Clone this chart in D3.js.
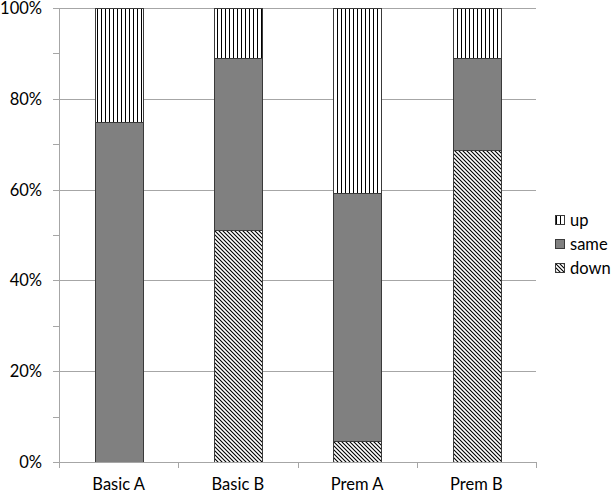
<!DOCTYPE html>
<html><head><meta charset="utf-8">
<script src="https://cdn.jsdelivr.net/npm/d3@7"></script>
<style>body{margin:0;background:#fff}svg{display:block}text{font-family:Lato,"Open Sans",sans-serif}</style>
</head><body><svg id="c" width="613" height="493"></svg>
<script>
const categories = ["Basic A","Basic B","Prem A","Prem B"];
const seriesNames = ["down","same","up"];
const down = [0, 51.1, 4.6, 68.7];
const same = [75.0, 37.9, 54.6, 20.2];
const up   = [25.0, 11.0, 40.8, 11.1];
const yTicks = [0,20,40,60,80,100];
const legendOrder = ["up","same","down"];

const svg = d3.select("#c");
const W=613,H=493;
const m={l:59,r:77,t:8,b:31};
const x=d3.scaleBand().domain(categories).range([m.l,W-m.r]).paddingInner(0.6).paddingOuter(0.3);
const xb=d3.scaleBand().domain(categories).range([m.l,W-m.r]);
const y=d3.scaleLinear().domain([0,100]).range([H-m.b,m.t]);

const defs=svg.append("defs");
const pu=defs.append("pattern").attr("id","p-up").attr("patternUnits","userSpaceOnUse").attr("width",4).attr("height",4);
pu.append("rect").attr("width",4).attr("height",4).attr("fill","#fff");
pu.append("line").attr("x1",1.5).attr("x2",1.5).attr("y1",0).attr("y2",4).attr("stroke","#000").attr("stroke-width",1);
const pd=defs.append("pattern").attr("id","p-down").attr("patternUnits","userSpaceOnUse").attr("width",4).attr("height",4);
pd.append("rect").attr("width",4).attr("height",4).attr("fill","#fff");
pd.append("path").attr("d","M-1,-1L5,5M-1,3L1,5M3,-1L5,1").attr("stroke","#000").attr("stroke-width",1.1);
const fills={up:"url(#p-up)",same:"#808080",down:"url(#p-down)"};

const gc="#a6a6a6";
svg.append("g").selectAll("line").data(yTicks).join("line")
 .attr("x1",m.l-6).attr("x2",W-m.r).attr("y1",d=>Math.round(y(d))+0.5).attr("y2",d=>Math.round(y(d))+0.5)
 .attr("stroke",gc).attr("stroke-width",1);
svg.append("g").selectAll("line").data(d3.range(10,100,20)).join("line")
 .attr("x1",m.l-6).attr("x2",m.l).attr("y1",d=>Math.round(y(d))+0.5).attr("y2",d=>Math.round(y(d))+0.5)
 .attr("stroke",gc);
svg.append("line").attr("x1",m.l+0.5).attr("x2",m.l+0.5).attr("y1",m.t).attr("y2",H-m.b+6).attr("stroke",gc);
const bounds=categories.map(c=>xb(c)).concat([W-m.r]);
svg.append("g").selectAll("line").data(bounds.slice(1)).join("line")
 .attr("x1",d=>Math.round(d)+0.5).attr("x2",d=>Math.round(d)+0.5).attr("y1",H-m.b).attr("y2",H-m.b+6).attr("stroke",gc);

svg.append("g").selectAll("text").data(yTicks).join("text")
 .attr("x",m.l-17).attr("y",d=>y(d)+6).attr("text-anchor","end").attr("font-size",16.5).attr("fill","#000")
 .text(d=>d+"%");
svg.append("g").selectAll("text").data(categories).join("text")
 .attr("x",d=>xb(d)+xb.bandwidth()/2).attr("y",H-3).attr("text-anchor","middle").attr("font-size",16.5).attr("fill","#000")
 .text(d=>d);

const rows=categories.map((c,i)=>({cat:c,down:down[i],same:same[i],up:up[i]}));
const stack=d3.stack().keys(seriesNames)(rows);
svg.append("g").selectAll("g").data(stack).join("g").attr("fill",s=>fills[s.key])
 .selectAll("rect").data(s=>s.filter(d=>d[1]-d[0]>0)).join("rect")
 .attr("x",d=>Math.round(x(d.data.cat))+0.5).attr("width",Math.round(x.bandwidth()))
 .attr("y",d=>Math.round(y(d[1]))+0.5).attr("height",d=>Math.round(y(d[0]))-Math.round(y(d[1])))
 .attr("stroke","#3a3a3a").attr("stroke-width",1);

svg.append("line").attr("x1",m.l-6).attr("x2",W-m.r).attr("y1",H-m.b+0.5).attr("y2",H-m.b+0.5).attr("stroke",gc);

const lg=svg.append("g").selectAll("g").data(legendOrder).join("g").attr("transform",(d,i)=>`translate(555,${215+i*24})`);
lg.append("rect").attr("x",0.5).attr("y",0.5).attr("width",9).attr("height",9).attr("fill",d=>fills[d]).attr("stroke","#3a3a3a");
lg.append("text").attr("x",15).attr("y",11).attr("font-size",16.5).attr("fill","#000").text(d=>d);
</script></body></html>
